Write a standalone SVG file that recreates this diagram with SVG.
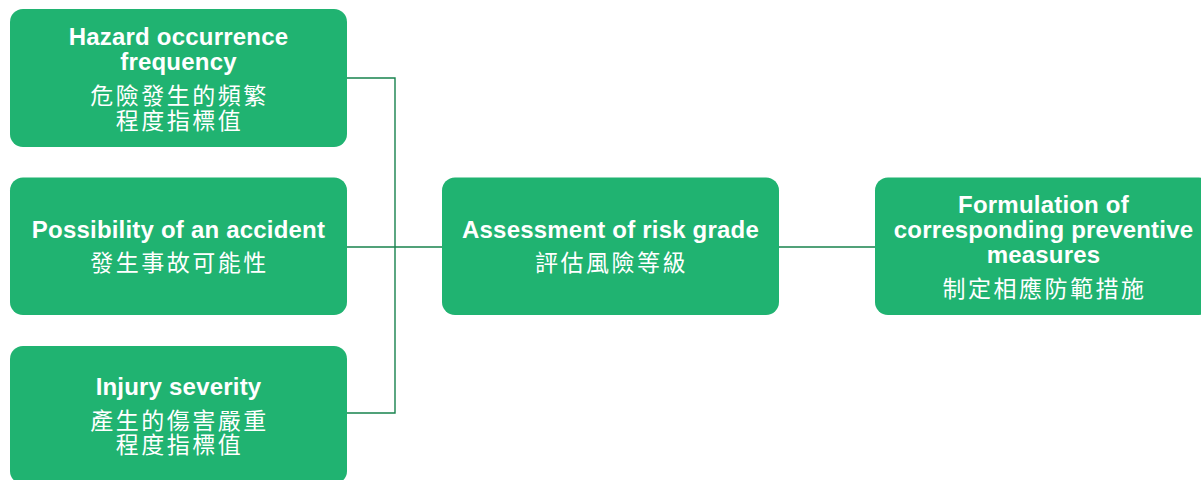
<svg xmlns="http://www.w3.org/2000/svg" width="1201" height="480" viewBox="0 0 1201 480">
<style>
.box{fill:#20b371;}
.en{font-family:"Liberation Sans",Arial,"Noto Sans CJK TC",sans-serif;font-weight:bold;font-size:24px;letter-spacing:0.2px;fill:#ffffff;text-anchor:middle;}
.zh{font-family:"Noto Sans CJK TC","Noto Sans CJK SC",sans-serif;font-size:23px;fill:#ffffff;text-anchor:middle;letter-spacing:2.5px;}
.con{fill:none;stroke:#17824d;stroke-width:1.4;}
</style>
<rect width="1201" height="480" fill="#ffffff"/>
<g id="connectors">
<path class="con" d="M347 78 H395 V413 H347"/>
<path class="con" d="M347 247 H442"/>
<path class="con" d="M779 247 H875"/>
</g>
<g id="node-frequency">
<rect class="box" x="10" y="9" width="337" height="138" rx="13"/>
<text class="en" x="178.5" y="45">Hazard occurrence</text>
<text class="en" x="178.5" y="70">frequency</text>
<text class="zh" x="179.5" y="104">危險發生的頻繁</text>
<text class="zh" x="179.5" y="129">程度指標值</text>
</g>
<g id="node-possibility">
<rect class="box" x="10" y="177.5" width="337" height="137.5" rx="13"/>
<text class="en" x="178.5" y="238">Possibility of an accident</text>
<text class="zh" x="179.5" y="271">發生事故可能性</text>
</g>
<g id="node-severity">
<rect class="box" x="10" y="346" width="337" height="138" rx="13"/>
<text class="en" x="178.5" y="395">Injury severity</text>
<text class="zh" x="179.5" y="429">產生的傷害嚴重</text>
<text class="zh" x="179.5" y="453">程度指標值</text>
</g>
<g id="node-assessment">
<rect class="box" x="442" y="177.5" width="337" height="137.5" rx="13"/>
<text class="en" x="610.5" y="238">Assessment of risk grade</text>
<text class="zh" x="611.5" y="271">評估風險等級</text>
</g>
<g id="node-measures">
<rect class="box" x="875" y="177.5" width="337" height="137.5" rx="13"/>
<text class="en" x="1043.5" y="213">Formulation of</text>
<text class="en" x="1043.5" y="238">corresponding preventive</text>
<text class="en" x="1043.5" y="263">measures</text>
<text class="zh" x="1044.5" y="297">制定相應防範措施</text>
</g>
</svg>
